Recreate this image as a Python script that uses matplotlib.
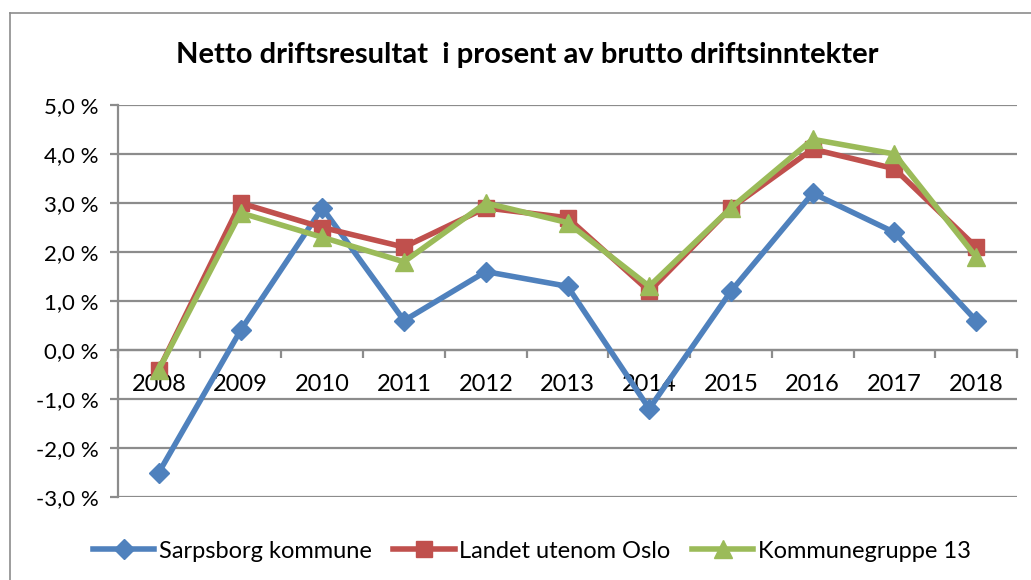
import matplotlib
matplotlib.use("Agg")
import matplotlib.pyplot as plt
from matplotlib.lines import Line2D
import numpy as np

years = ["2008", "2009", "2010", "2011", "2012", "2013", "2014", "2015", "2016", "2017", "2018"]
sarpsborg = [-2.5, 0.4, 2.9, 0.6, 1.6, 1.3, -1.2, 1.2, 3.2, 2.4, 0.6]
landet = [-0.4, 3.0, 2.5, 2.1, 2.9, 2.7, 1.2, 2.9, 4.1, 3.7, 2.1]
kgr13 = [-0.4, 2.8, 2.3, 1.8, 3.0, 2.6, 1.3, 2.9, 4.3, 4.0, 1.9]
series_names = ["Sarpsborg kommune", "Landet utenom Oslo", "Kommunegruppe 13"]
yticks = [-3, -2, -1, 0, 1, 2, 3, 4, 5]
title = "Netto driftsresultat  i prosent av brutto driftsinntekter"

plt.rcParams['font.family'] = ['Lato', 'DejaVu Sans']

W, H = 1031, 580
fig = plt.figure(figsize=(W/100, H/100), dpi=100)
ax = fig.add_axes([118/W, 1 - 497/H, (1017-118)/W, (497-105)/H])

x = np.arange(len(years))
colors = ["#4F81BD", "#C0504D", "#9BBB59"]
markers = ["D", "s", "^"]
msizes = [10, 12, 13]
for vals, c, m, ms, name in zip([sarpsborg, landet, kgr13], colors, markers, msizes, series_names):
    ax.plot(x, vals, color=c, lw=4, marker=m, markersize=ms, label=name, zorder=3)

ax.set_xlim(-0.5, len(years) - 0.5)
ax.set_ylim(-3, 5)
ax.set_yticks(yticks)
ax.set_yticklabels([f"{v:.1f} %".replace(".", ",") for v in yticks], fontsize=16)
ax.grid(axis='y', color='#8C8C8C', lw=1.6, zorder=0)
ax.tick_params(axis='y', length=6, width=1.6, color='#8C8C8C', pad=8)

# x axis at zero
ax.spines['bottom'].set_position(('data', 0))
ax.spines['bottom'].set_color('#8C8C8C')
ax.spines['bottom'].set_linewidth(1.6)
ax.spines['left'].set_color('#8C8C8C')
ax.spines['left'].set_linewidth(1.6)
ax.spines['top'].set_visible(False)
ax.spines['right'].set_visible(False)
ax.set_xticks(np.arange(-0.5, len(years), 1.0))
ax.set_xticklabels([])
ax.tick_params(axis='x', which='major', direction='out', length=6, width=1.6, color='#8C8C8C')
ax.set_xticks(x, minor=True)
ax.set_xticklabels(years, minor=True, fontsize=17)
ax.tick_params(axis='x', which='minor', length=0, pad=17)

fig.text(527/W, 1 - 55/H, title, ha='center', va='center', fontsize=21, fontweight='bold')

leg = fig.legend(loc='center', bbox_to_anchor=(532/W, 1 - 551/H), ncol=3, frameon=False,
                 fontsize=17, handlelength=2.6, columnspacing=0.9, handletextpad=0.2)

# chart border (left and top visible)
fig.add_artist(Line2D([10/W, 10/W], [0, 1 - 13/H], color='#8C8C8C', lw=1.2, transform=fig.transFigure))
fig.add_artist(Line2D([10/W, 1], [1 - 13/H, 1 - 13/H], color='#8C8C8C', lw=1.2, transform=fig.transFigure))

fig.savefig("out.png", dpi=100)
